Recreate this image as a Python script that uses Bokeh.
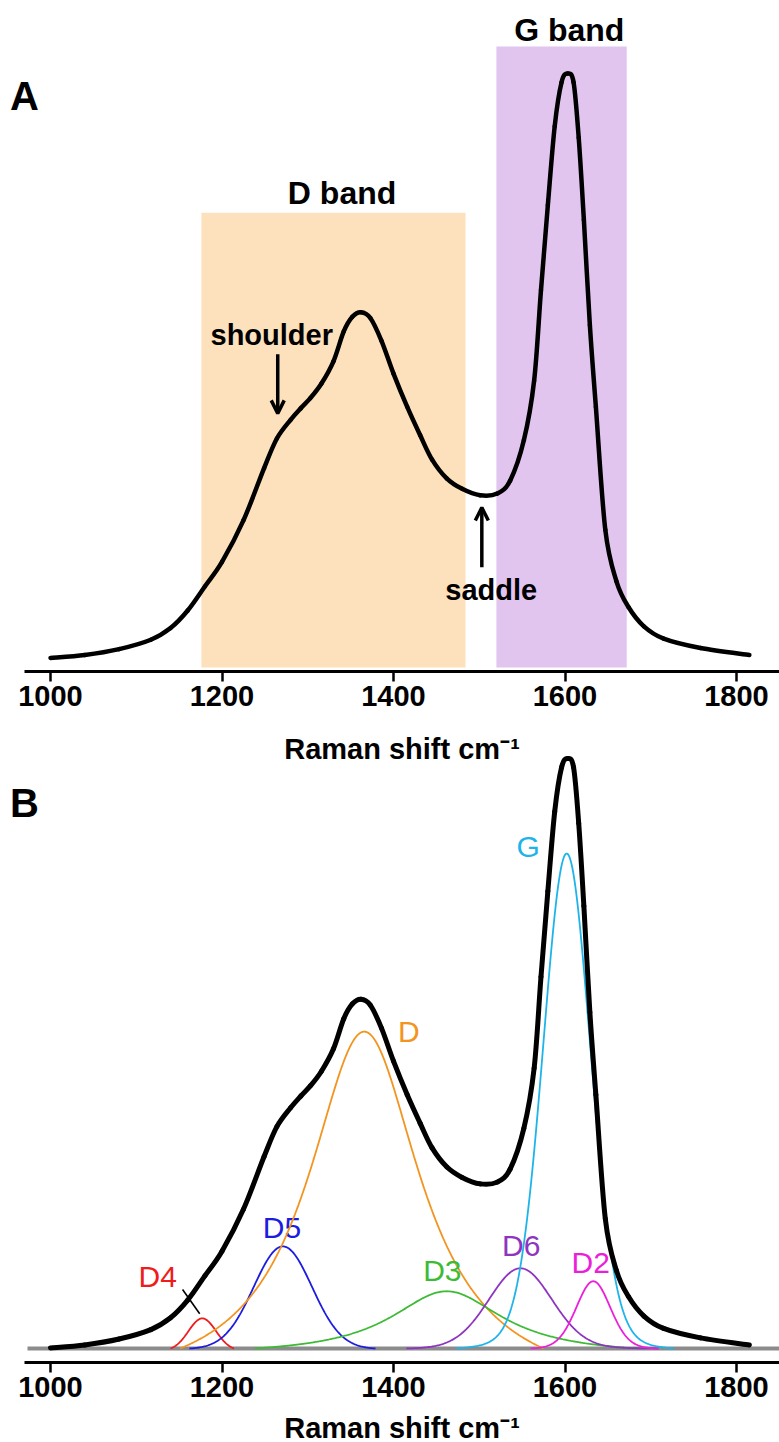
import numpy as np
from bokeh.plotting import figure
from bokeh.models import Arrow, OpenHead, FixedTicker, Range1d, LinearAxis
from bokeh.embed import file_html
from bokeh.resources import INLINE
from bokeh.core.properties import value

FONT = "Liberation Sans"

# ---------------- data ----------------
tick_values = [1000, 1200, 1400, 1600, 1800]

spec_x = [1000, 1040, 1080, 1117, 1140, 1160, 1180, 1200, 1225, 1249, 1264, 1280, 1292, 1303,
          1316, 1330, 1342, 1352, 1362, 1373, 1386, 1400, 1416, 1431, 1445, 1462, 1480, 1501,
          1521, 1536, 1552, 1564, 1572, 1580, 1588, 1596, 1603, 1610, 1616, 1622, 1629, 1636,
          1647, 1660, 1674, 1692, 1715, 1758, 1815]
spec_y = [0.1, 0.6, 1.6, 3.2, 5.2, 8.2, 12.3, 16.5, 23.6, 32.5, 37.6, 40.8, 42.8, 44.5,
          47.0, 50.8, 55.9, 58.4, 59.2, 58.2, 54.3, 48.7, 43.0, 38.2, 34.0, 30.8, 29.0, 27.9,
          28.2, 30.4, 37.3, 47.5, 63.0, 77.5, 91.0, 98.5, 100.0, 98.5, 89.0, 75.0, 57.0, 43.0,
          22.0, 13.2, 8.8, 5.5, 3.4, 1.8, 0.6]

# Panel A: highlighted band regions
region_names = ["D band", "G band"]
region_lo = [1176, 1520]
region_hi = [1484, 1672]
region_top = [76.2, 104.6]
region_label_x = [1340, 1605]
region_label_y = [79.6, 107.5]
region_colors = ["#FCE1BC", "#E1C5EE"]

# Panel B: fitted bands (centre cm-1, displayed peak height a.u., HWHM cm-1, Lorentz fraction, drawn window)
band_names = ["D4", "D5", "D", "D3", "D6", "D2", "G"]
band_center = [1177, 1271, 1366, 1462, 1548, 1633, 1602]
band_height = [5.1, 17.3, 53.7, 9.7, 13.6, 11.4, 83.9]
band_hwhm = [19, 40, 80, 80, 44, 24, 33]
band_eta = [0.0, 0.0, 1.0, 1.0, 0.1, 0.2, 0.15]
band_lo = [1140, 1162, 1151, 1238, 1415, 1560, 1473]
band_hi = [1214, 1379, 1575, 1683, 1709, 1709, 1727]
band_colors = ["#EE1C1C", "#1C1CE0", "#F39420", "#3DBB35", "#8E35C0", "#EC1FD9", "#1EB4EA"]
label_x = [1125, 1270, 1418, 1457, 1549, 1630, 1557]
label_y = [12.2, 20.5, 53.8, 13.3, 17.4, 14.5, 85.1]
d4_leader_x = [1154, 1174]
d4_leader_y = [10.0, 5.9]

# annotations panel A
shoulder_arrow_x, shoulder_arrow_y = 1265, [52.0, 41.9]
saddle_arrow_x, saddle_arrow_y = 1503, [15.6, 25.8]


def profile(x, c, w, eta):
    d2 = (x - c) ** 2
    return eta * w * w / (w * w + d2) + (1 - eta) * np.exp(-np.log(2) * d2 / (w * w))


def smooth_line(p, xs, ys, **kw):
    """Draw a smooth path through the given points with cubic Bezier segments."""
    x = np.asarray(xs, float)
    y = np.asarray(ys, float)
    xp = np.concatenate([[x[0]], x, [x[-1]]])
    yp = np.concatenate([[y[0]], y, [y[-1]]])
    i = np.arange(1, len(x))
    p.bezier(x0=xp[i], y0=yp[i], x1=xp[i + 1], y1=yp[i + 1],
             cx0=xp[i] + (xp[i + 1] - xp[i - 1]) / 6, cy0=yp[i] + (yp[i + 1] - yp[i - 1]) / 6,
             cx1=xp[i + 1] - (xp[i + 2] - xp[i]) / 6, cy1=yp[i + 1] - (yp[i + 2] - yp[i]) / 6,
             line_cap="round", **kw)


W, H = 779, 1442
PX = 0.8575                      # pixels per cm-1
XL = 1000 - 50 / PX              # left edge of the canvas
XR = XL + W / PX
XAX = XL + 24 / PX               # axis line start

SA, A_BASE, A_AXIS = 5.85, 658, 671      # panel A: px per unit, baseline px, axis px
SB, B_BASE, B_AXIS = 5.9, 1348, 1362     # panel B

p = figure(width=W, height=H, x_range=Range1d(XL, XR),
           y_range=Range1d((B_BASE - H) / SB, B_BASE / SB),
           extra_y_ranges={"a": Range1d((A_BASE - H) / SA, A_BASE / SA)},
           output_backend="svg", toolbar_location=None, x_axis_location=None,
           y_axis_location=None, min_border=0)
p.grid.visible = False
p.outline_line_color = None


def add_axis(range_name, loc, standoff):
    ax = LinearAxis(y_range_name=range_name, fixed_location=loc, bounds=(XAX, XR),
                    ticker=FixedTicker(ticks=tick_values))
    ax.axis_line_width = 3
    ax.axis_line_color = "black"
    ax.major_tick_line_width = 2.5
    ax.major_tick_out = 10
    ax.major_tick_in = 0
    ax.minor_tick_line_color = None
    ax.major_label_text_font = FONT
    ax.major_label_text_font_style = "bold"
    ax.major_label_text_font_size = "29px"
    ax.major_label_text_color = "black"
    ax.major_label_standoff = 4
    ax.axis_label = "Raman shift cm\u207b\u00b9"
    ax.axis_label_text_font = FONT
    ax.axis_label_text_font_style = "bold"
    ax.axis_label_text_font_size = "29px"
    ax.axis_label_text_color = "black"
    ax.axis_label_standoff = standoff
    p.add_layout(ax, "below")


def bold_text(x, y, t, size, rn="default"):
    p.text(x=[x], y=[y], text=[t], text_align="center", text_baseline="middle",
           text_font=value(FONT), text_font_style="bold", text_font_size=size,
           text_color="black", y_range_name=rn)


# ---------------- Panel A ----------------
add_axis("a", (A_BASE - A_AXIS) / SA, 24)
p.quad(left=region_lo, right=region_hi, bottom=(A_BASE - 667) / SA, top=region_top,
       fill_color=region_colors, line_color=None, y_range_name="a")
for nm, lx, ly in zip(region_names, region_label_x, region_label_y):
    bold_text(lx, ly, nm, "32px", "a")
smooth_line(p, spec_x, spec_y, line_color="black", line_width=4.5, y_range_name="a")
for ax_, ay_ in [(shoulder_arrow_x, shoulder_arrow_y), (saddle_arrow_x, saddle_arrow_y)]:
    p.add_layout(Arrow(end=OpenHead(size=13, line_width=3.5, line_color="black"),
                       x_start=ax_, y_start=ay_[0], x_end=ax_, y_end=ay_[1],
                       line_width=3.5, line_color="black", y_range_name="a"))
bold_text(1258, 55.3, "shoulder", "29px", "a")
bold_text(1514, 11.7, "saddle", "29px", "a")
bold_text(969.7, 96.2, "A", "40px", "a")

# ---------------- Panel B ----------------
add_axis("default", (B_BASE - B_AXIS) / SB, 12)
p.segment(x0=XAX + 3 / PX, y0=0, x1=XR, y1=0, line_color="#8C8C8C", line_width=4)

for nm, c, h, w, e, lo, hi, col, lx, ly in zip(band_names, band_center, band_height, band_hwhm,
                                               band_eta, band_lo, band_hi, band_colors, label_x, label_y):
    bx = np.arange(lo, hi + 1, 1.0)
    raw = profile(bx, c, w, e)
    edge = profile(np.array([lo, hi], dtype=float), c, w, e)
    base = edge[0] + (edge[1] - edge[0]) * (bx - lo) / (hi - lo)
    base_c = edge[0] + (edge[1] - edge[0]) * (c - lo) / (hi - lo)
    p.line(bx, h * (raw - base) / (1 - base_c), line_color=col, line_width=1.8)
    p.text(x=[lx], y=[ly], text=[nm], text_align="center", text_baseline="middle",
           text_font=value(FONT), text_font_size="30px", text_color=col)

p.line(d4_leader_x, d4_leader_y, line_color="black", line_width=1.6)
smooth_line(p, spec_x, spec_y, line_color="black", line_width=5)
bold_text(969.7, 92.5, "B", "40px")

open("out.html", "w").write(file_html(p, INLINE))
